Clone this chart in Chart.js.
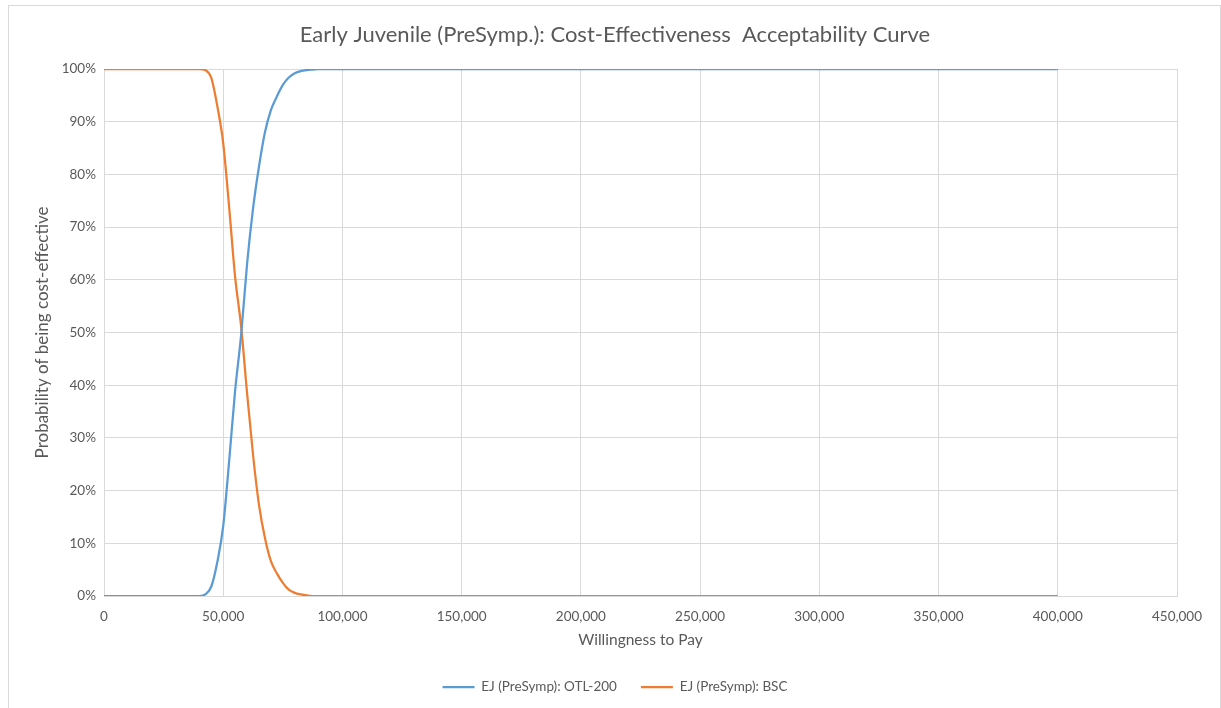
<!DOCTYPE html>
<html>
<head>
<meta charset="utf-8">
<script src="https://cdn.jsdelivr.net/npm/chart.js@4/dist/chart.umd.min.js"></script>
<style>
  body { margin: 0; background: #fff; }
  #frame { position: absolute; left: 8px; top: 5px; width: 1211px; height: 710px; border: 1px solid #d9d9d9; }
  #wrap { position: absolute; left: 0; top: 0; width: 1221px; height: 708px; }
</style>
</head>
<body>
<div id="frame"></div>
<div id="wrap"><canvas id="chart" width="1221" height="708"></canvas></div>
<script>
// willingness to pay (x values) and probabilities
var wtp = [0, 37500, 40000, 42500, 45000, 47500, 50000, 52500, 55000, 57500, 60000,
           62500, 65000, 67500, 70000, 72500, 75000, 77500, 80000, 82500, 85000, 87500, 90000, 400000];
var otl200 = [0, 0, 0, 0.003, 0.018, 0.064, 0.133, 0.257, 0.39, 0.495, 0.63,
              0.735, 0.815, 0.88, 0.922, 0.948, 0.97, 0.984, 0.992, 0.996, 0.998, 0.999, 1, 1];
var bsc = [1, 1, 1, 0.998, 0.983, 0.93, 0.859, 0.737, 0.605, 0.512, 0.385,
           0.268, 0.173, 0.11, 0.066, 0.043, 0.025, 0.012, 0.006, 0.003, 0.001, 0, 0, 0];
var seriesNames = ['EJ (PreSymp): OTL-200', 'EJ (PreSymp): BSC'];
var xTicks = [0, 50000, 100000, 150000, 200000, 250000, 300000, 350000, 400000, 450000];

function toPoints(ys) {
    return wtp.map(function(x, i) { return {x: x, y: ys[i]}; });
}

var fontFamily = 'Lato, "Open Sans", sans-serif';
var textColor = '#595959';
var gridColor = '#d9d9d9';

var ctx = document.getElementById('chart').getContext('2d');
var myChart = new Chart(ctx, {
    type: 'line',
    data: {
        datasets: [{
            label: seriesNames[0],
            data: toPoints(otl200),
            borderColor: '#5b9bd5',
            backgroundColor: '#5b9bd5',
            borderWidth: 2.25,
            pointRadius: 0,
            cubicInterpolationMode: 'monotone'
        }, {
            label: seriesNames[1],
            data: toPoints(bsc),
            borderColor: '#ed7d31',
            backgroundColor: '#ed7d31',
            borderWidth: 2.25,
            pointRadius: 0,
            cubicInterpolationMode: 'monotone'
        }]
    },
    options: {
        responsive: false,
        animation: false,
        // left padding a bit bigger than right so title/legend centre near x=615
        layout: { padding: { left: 53, right: 44, top: 0, bottom: 4.25 } },
        plugins: {
            title: {
                display: true,
                text: 'Early Juvenile (PreSymp.): Cost-Effectiveness  Acceptability Curve',
                color: textColor,
                font: { family: fontFamily, size: 22, weight: 'normal' },
                padding: { top: 22, bottom: 20.6 }
            },
            legend: {
                position: 'bottom',
                labels: {
                    color: textColor,
                    font: { family: fontFamily, size: 13.5 },
                    usePointStyle: true,
                    pointStyle: 'line',
                    pointStyleWidth: 32,
                    padding: 24
                }
            },
            tooltip: { enabled: false }
        },
        scales: {
            x: {
                type: 'linear',
                min: 0,
                max: 450000,
                afterBuildTicks: function(scale) {
                    scale.ticks = xTicks.map(function(v) { return {value: v}; });
                },
                afterFit: function(scale) { scale.height = 60.25; },
                grid: { color: gridColor, drawTicks: false },
                border: { color: gridColor },
                ticks: {
                    color: textColor,
                    padding: 13,
                    font: { family: fontFamily, size: 13.5 },
                    callback: function(v) { return v.toLocaleString('en-US'); }
                },
                title: {
                    display: true,
                    text: 'Willingness to Pay',
                    color: textColor,
                    font: { family: fontFamily, size: 15.5 },
                    padding: { top: 4, bottom: 6.95 }
                }
            },
            y: {
                min: 0,
                max: 1,
                afterFit: function(scale) { scale.width = 51; },
                grid: { color: gridColor, drawTicks: false },
                border: { color: gridColor },
                ticks: {
                    stepSize: 0.1,
                    color: textColor,
                    padding: 8,
                    font: { family: fontFamily, size: 13.5 },
                    callback: function(v) { return Math.round(v * 100) + '%'; }
                },
                title: {
                    display: true,
                    text: 'Probability of being cost-effective',
                    color: textColor,
                    font: { family: fontFamily, size: 17 },
                    padding: { top: -21, bottom: 0 }
                }
            }
        }
    }
});
</script>
</body>
</html>
